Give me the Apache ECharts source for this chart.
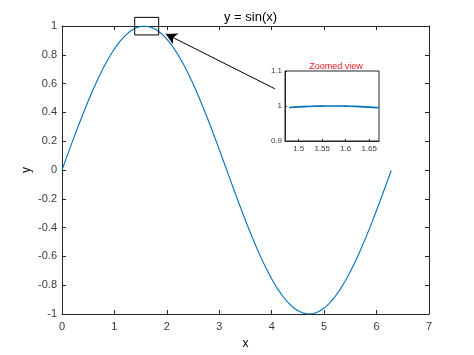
<!DOCTYPE html>
<html><head><meta charset="utf-8">
<script src="https://cdn.jsdelivr.net/npm/echarts@6/dist/echarts.min.js"></script>
<style>html,body{margin:0;padding:0;background:#fff}#c{width:474px;height:355px}</style>
</head><body><div id="c"></div>
<script>
// main curve y = sin(x), sampled values
const xValues = [0,0.1,0.2,0.3,0.4,0.5,0.6,0.7,0.8,0.9,1.0,1.1,1.2,1.3,1.4,1.5,1.57,1.6,1.7,1.8,1.9,2.0,2.1,2.2,2.3,2.4,2.5,2.6,2.7,2.8,2.9,3.0,3.1,3.2,3.3,3.4,3.5,3.6,3.7,3.8,3.9,4.0,4.1,4.2,4.3,4.4,4.5,4.6,4.7,4.71,4.8,4.9,5.0,5.1,5.2,5.3,5.4,5.5,5.6,5.7,5.8,5.9,6.0,6.1,6.2,6.28];
const yValues = [0,0.0998,0.1987,0.2955,0.3894,0.4794,0.5646,0.6442,0.7174,0.7833,0.8415,0.8912,0.9320,0.9636,0.9854,0.9975,1.0,0.9996,0.9917,0.9738,0.9463,0.9093,0.8632,0.8085,0.7457,0.6755,0.5985,0.5155,0.4274,0.3350,0.2392,0.1411,0.0416,-0.0584,-0.1577,-0.2555,-0.3508,-0.4425,-0.5298,-0.6119,-0.6878,-0.7568,-0.8183,-0.8716,-0.9162,-0.9516,-0.9775,-0.9937,-0.9999,-1.0,-0.9962,-0.9825,-0.9589,-0.9258,-0.8835,-0.8323,-0.7728,-0.7055,-0.6313,-0.5507,-0.4646,-0.3739,-0.2794,-0.1822,-0.0831,-0.0032];
// zoomed inset values
const zoomX = [1.48,1.49,1.50,1.51,1.52,1.53,1.54,1.55,1.56,1.57,1.58,1.59,1.60,1.61,1.62,1.63,1.64,1.65,1.66,1.67];
const zoomY = [0.99588,0.99674,0.99749,0.99815,0.99871,0.99917,0.99953,0.99978,0.99994,1.0,0.99996,0.99982,0.99957,0.99923,0.99879,0.99825,0.99761,0.99687,0.99602,0.99508];
const zoomTicks = [1.5, 1.55, 1.6, 1.65];
// annotation rectangle [x0, y0, x1, y1] and arrow (from, to) in data units
const zoomBox = [1.387, 0.938, 1.844, 1.06];
const arrowFrom = [4.06, 0.564];
const arrowTo = [1.98, 0.945];
const mainTitle = 'y = sin(x)';
const insetTitle = 'Zoomed view';
const xName = 'x', yName = 'y';

const mainData = xValues.map((x, i) => [x, yValues[i]]);
const insetData = zoomX.map((x, i) => [x, zoomY[i]]);

const axisCol = '#262626';
const lblCol = '#3a3a3a';
const font = 'Liberation Sans, Arial, sans-serif';

function axisLine() { return {onZero: false, lineStyle: {color: axisCol, width: 1}}; }
function tick(len, extra) { return Object.assign({inside: true, length: len, lineStyle: {color: axisCol}}, extra || {}); }

const chart = echarts.init(document.getElementById('c'), null, {renderer: 'canvas'});
chart.setOption({
  animation: false,
  backgroundColor: '#fff',
  title: [
    {text: mainTitle, left: 245.5, top: 6, textAlign: 'center',
     textStyle: {fontFamily: font, fontSize: 13, fontWeight: 'normal', color: '#000'}},
    {text: insetTitle, left: 331, top: 57, textAlign: 'center',
     textStyle: {fontFamily: font, fontSize: 9, fontWeight: 'normal', color: '#f0141e'}}
  ],
  grid: [
    {left: 62, top: 26, right: 45, bottom: 40, show: false},
    {left: 285, top: 71, width: 94, height: 70, show: true, borderColor: axisCol, borderWidth: 1, backgroundColor: '#fff', z: 5}
  ],
  xAxis: [
    {gridIndex: 0, type: 'value', min: 0, max: 7, interval: 1, position: 'bottom',
     name: xName, nameLocation: 'middle', nameGap: 24, nameMoveOverlap: false,
     nameTextStyle: {fontFamily: font, fontSize: 12, color: '#000'},
     axisLine: axisLine(), axisTick: tick(4),
     axisLabel: {fontFamily: font, fontSize: 11, color: lblCol, margin: 7},
     splitLine: {show: false}},
    {gridIndex: 0, type: 'value', min: 0, max: 7, interval: 1, position: 'top',
     axisLine: axisLine(), axisTick: tick(4),
     axisLabel: {show: false}, splitLine: {show: false}},
    {gridIndex: 1, type: 'value', min: 1.4708, max: 1.6708, position: 'bottom', z: 6,
     axisLine: axisLine(), axisTick: tick(2, {customValues: zoomTicks}),
     axisLabel: {fontFamily: font, fontSize: 8, color: lblCol, margin: 4, customValues: zoomTicks},
     splitLine: {show: false}}
  ],
  yAxis: [
    {gridIndex: 0, type: 'value', min: -1, max: 1, interval: 0.2, position: 'left',
     name: yName, nameLocation: 'middle', nameGap: 29, nameMoveOverlap: false,
     nameTextStyle: {fontFamily: font, fontSize: 12, color: '#000'},
     axisLine: axisLine(), axisTick: tick(4),
     axisLabel: {fontFamily: font, fontSize: 11, color: lblCol, margin: 5,
       formatter: v => String(Math.round(v * 10) / 10)},
     splitLine: {show: false}},
    {gridIndex: 0, type: 'value', min: -1, max: 1, interval: 0.2, position: 'right',
     axisLine: axisLine(), axisTick: tick(4),
     axisLabel: {show: false}, splitLine: {show: false}},
    {gridIndex: 1, type: 'value', min: 0.9, max: 1.1, interval: 0.1, position: 'left', z: 6,
     axisLine: axisLine(), axisTick: tick(2),
     axisLabel: {fontFamily: font, fontSize: 8, color: lblCol, margin: 3,
       formatter: v => String(Math.round(v * 10) / 10)},
     splitLine: {show: false}}
  ],
  series: [
    {type: 'line', xAxisIndex: 0, yAxisIndex: 0, data: mainData, showSymbol: false,
     lineStyle: {color: '#0072BD', width: 1.1}, z: 2},
    {type: 'custom', xAxisIndex: 0, yAxisIndex: 0, clip: false, z: 3,
     data: [zoomBox],
     renderItem: function (params, api) {
       const p0 = api.coord([api.value(0), api.value(3)]);
       const p1 = api.coord([api.value(2), api.value(1)]);
       return {type: 'rect', shape: {x: p0[0], y: p0[1], width: p1[0] - p0[0], height: p1[1] - p0[1]},
         style: {fill: 'none', stroke: '#000', lineWidth: 1}};
     }},
    {type: 'line', xAxisIndex: 0, yAxisIndex: 0, data: [], z: 4,
     markLine: {silent: true, symbol: ['none', 'arrow'], symbolSize: [9, 11], animation: false,
       label: {show: false},
       lineStyle: {color: '#000', width: 1, type: 'solid'},
       data: [[{coord: arrowFrom}, {coord: arrowTo}]]}},
    {type: 'line', xAxisIndex: 2, yAxisIndex: 2, data: insetData, showSymbol: false,
     lineStyle: {color: '#0072BD', width: 1.6}, z: 6}
  ]
});
</script></body></html>
